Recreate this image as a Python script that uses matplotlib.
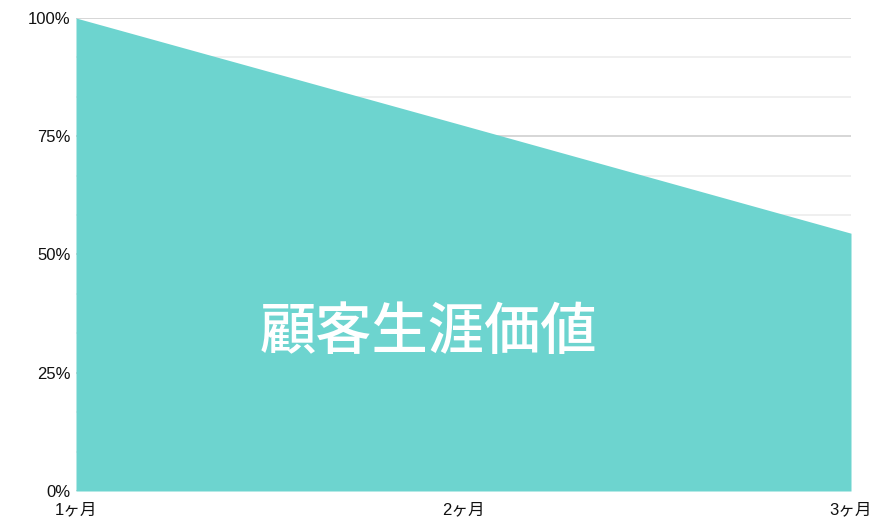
import matplotlib.pyplot as plt
from matplotlib.ticker import MultipleLocator, FuncFormatter

plt.rcParams['font.family'] = ['Liberation Sans', 'Noto Sans CJK JP', 'DejaVu Sans']

# 期間と残存率(%)
months = ['1ヶ月', '2ヶ月', '3ヶ月']
retention = [100, 77.3, 54.5]
y_ticks = [0, 25, 50, 75, 100]

fig = plt.figure(figsize=(8.77, 5.19), dpi=100)
ax = fig.add_axes([76 / 877, 28 / 519, 775 / 877, 473 / 519])

x = list(range(len(months)))
ax.fill_between(x, retention, 0, color='#6dd4cf', linewidth=0, zorder=3)

ax.set_xlim(0, len(months) - 1)
ax.set_ylim(0, 100)

# グリッド線
ax.yaxis.set_major_locator(MultipleLocator(25))
ax.yaxis.set_minor_locator(MultipleLocator(25 / 3))
ax.grid(axis='y', which='major', color='#d0d0d0', linewidth=1.2, zorder=1)
ax.grid(axis='y', which='minor', color='#ececec', linewidth=1.2, zorder=1)
ax.grid(axis='x', visible=False)
ax.yaxis.set_major_formatter(FuncFormatter(lambda v, p: f'{v:.0f}%'))
ax.set_yticks(y_ticks)

ax.set_xticks(x)
ax.set_xticklabels(months)

ax.tick_params(axis='both', which='both', length=0, labelsize=12, colors='#111111')
ax.tick_params(axis='y', pad=4)
ax.tick_params(axis='x', pad=8)
for s in ax.spines.values():
    s.set_visible(False)

ax.text(0.455, 0.335, '顧客生涯価値', transform=ax.transAxes, color='white',
        fontsize=40.5, fontweight='medium', ha='center', va='center',
        family=['Noto Sans CJK JP'], zorder=4)

fig.savefig('out.png', dpi=100)
